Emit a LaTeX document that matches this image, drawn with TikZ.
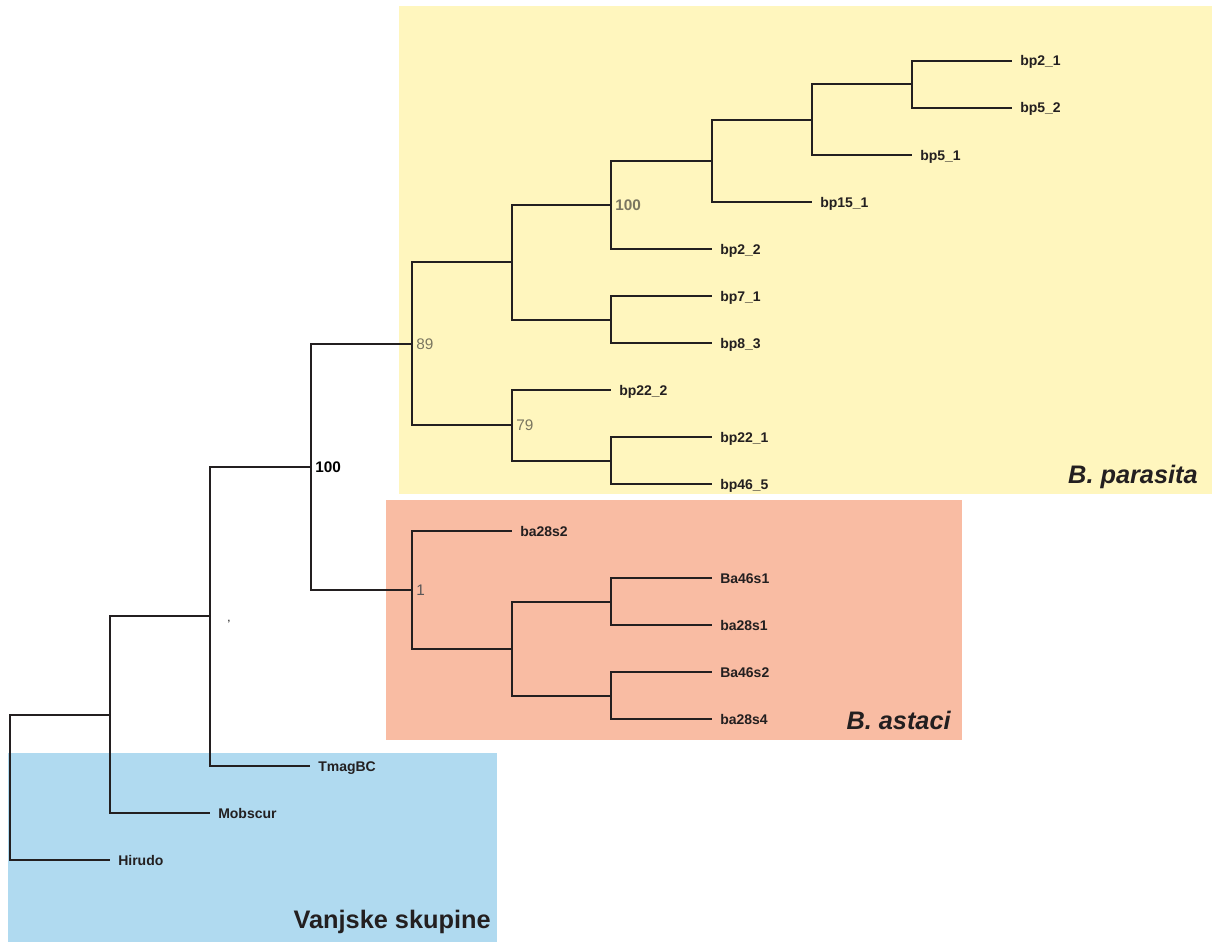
\documentclass[tikz,border=0pt]{standalone}
\usepackage{fontspec}
\setmainfont{Liberation Sans}
\definecolor{parasitabg}{HTML}{FFF6BE}
\definecolor{astacibg}{HTML}{F9BCA3}
\definecolor{outbg}{HTML}{B0DAF0}
\definecolor{treeline}{HTML}{231F20}
\definecolor{supportgray}{HTML}{7A7660}
\begin{document}
\begin{tikzpicture}[x=0.75pt,y=-0.75pt,
    branch/.style={draw=treeline,line width=1.7pt},
    tip/.style={anchor=west,inner xsep=6pt,inner ysep=0pt,text height=7.5pt,text depth=0pt,
        text=treeline,font=\bfseries\fontsize{10.5}{12}\selectfont},
    support/.style={anchor=west,inner xsep=3pt,inner ysep=0pt,text=supportgray,font=\fontsize{11.5}{13}\selectfont},
    group/.style={anchor=base east,inner sep=0pt,text=treeline,font=\bfseries\fontsize{19}{22}\selectfont}]
\useasboundingbox (0,0) rectangle (1213,942);
% coloured groups
\fill[parasitabg] (399,6) rectangle (1212,494);
\fill[astacibg] (386,500) rectangle (962,740);
\fill[outbg] (8,753) rectangle (497,942);
% inner nodes
\coordinate (root) at (10,787);
\coordinate (nA) at (110,715);
\coordinate (nB) at (210,616);
\coordinate (nC) at (311,467);
\coordinate (par) at (412,344);
\coordinate (par1) at (512,262);
\coordinate (par2) at (611,205);
\coordinate (par3) at (712,161);
\coordinate (par4) at (812,120);
\coordinate (par5) at (912,84);
\coordinate (par6) at (611,320);
\coordinate (par7) at (512,425);
\coordinate (par8) at (611,461);
\coordinate (ast) at (412,590);
\coordinate (ast1) at (512,649);
\coordinate (ast2) at (611,602);
\coordinate (ast3) at (611,696);
% tips
\node[tip] (bp2-1) at (1012,61) {bp2\_1};
\node[tip] (bp5-2) at (1012,108) {bp5\_2};
\node[tip] (bp5-1) at (912,155) {bp5\_1};
\node[tip] (bp15-1) at (812,202) {bp15\_1};
\node[tip] (bp2-2) at (712,249) {bp2\_2};
\node[tip] (bp7-1) at (712,296) {bp7\_1};
\node[tip] (bp8-3) at (712,343) {bp8\_3};
\node[tip] (bp22-2) at (611,390) {bp22\_2};
\node[tip] (bp22-1) at (712,437) {bp22\_1};
\node[tip] (bp46-5) at (712,484) {bp46\_5};
\node[tip] (ba28s2) at (512,531) {ba28s2};
\node[tip] (Ba46s1) at (712,578) {Ba46s1};
\node[tip] (ba28s1) at (712,625) {ba28s1};
\node[tip] (Ba46s2) at (712,672) {Ba46s2};
\node[tip] (ba28s4) at (712,719) {ba28s4};
\node[tip] (TmagBC) at (310,766) {TmagBC};
\node[tip] (Mobscur) at (210,813) {Mobscur};
\node[tip] (Hirudo) at (110,860) {Hirudo};
% branches
\draw[branch] (root) |- (nA);
\draw[branch] (root) |- (Hirudo.west);
\draw[branch] (nA) |- (nB);
\draw[branch] (nA) |- (Mobscur.west);
\draw[branch] (nB) |- (nC);
\draw[branch] (nB) |- (TmagBC.west);
\draw[branch] (nC) |- (par);
\draw[branch] (nC) |- (ast);
\draw[branch] (par) |- (par1);
\draw[branch] (par) |- (par7);
\draw[branch] (par1) |- (par2);
\draw[branch] (par1) |- (par6);
\draw[branch] (par2) |- (par3);
\draw[branch] (par2) |- (bp2-2.west);
\draw[branch] (par3) |- (par4);
\draw[branch] (par3) |- (bp15-1.west);
\draw[branch] (par4) |- (par5);
\draw[branch] (par4) |- (bp5-1.west);
\draw[branch] (par5) |- (bp2-1.west);
\draw[branch] (par5) |- (bp5-2.west);
\draw[branch] (par6) |- (bp7-1.west);
\draw[branch] (par6) |- (bp8-3.west);
\draw[branch] (par7) |- (bp22-2.west);
\draw[branch] (par7) |- (par8);
\draw[branch] (par8) |- (bp22-1.west);
\draw[branch] (par8) |- (bp46-5.west);
\draw[branch] (ast) |- (ba28s2.west);
\draw[branch] (ast) |- (ast1);
\draw[branch] (ast1) |- (ast2);
\draw[branch] (ast1) |- (ast3);
\draw[branch] (ast2) |- (Ba46s1.west);
\draw[branch] (ast2) |- (ba28s1.west);
\draw[branch] (ast3) |- (Ba46s2.west);
\draw[branch] (ast3) |- (ba28s4.west);
% support values
\node[support,text=black,font=\bfseries\fontsize{11.5}{13}\selectfont] (sC) at (nC) {100};
\node[support] (spar) at (par) {89};
\node[support,font=\bfseries\fontsize{11.5}{13}\selectfont] (spar2) at (par2) {100};
\node[support] (spar7) at (par7) {79};
\node[support,text=treeline!75] (sast) at (ast) {1};
\node[inner sep=0pt,font=\fontsize{9}{10}\selectfont] (tick) at (229,624) {'};
% group names
\node[group,font=\bfseries\itshape\fontsize{19}{22}\selectfont] (gpar) at (1198,483) {B. parasita};
\node[group,font=\bfseries\itshape\fontsize{19}{22}\selectfont] (gast) at (951,729) {B. astaci};
\node[group] (gout) at (491,928) {Vanjske skupine};
\end{tikzpicture}
\end{document}
